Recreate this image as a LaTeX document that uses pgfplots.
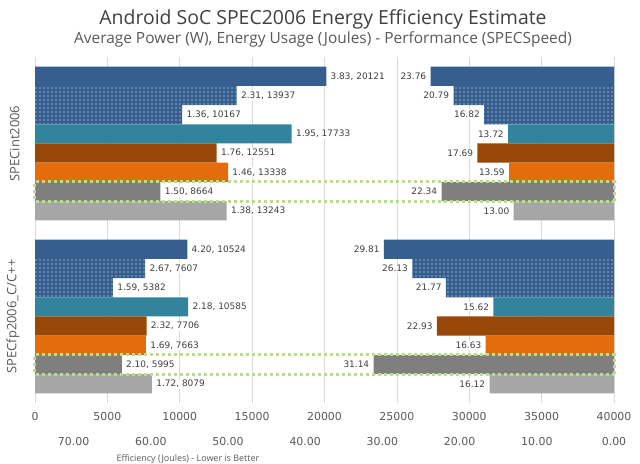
\documentclass[border=0pt]{standalone}
\usepackage{fontspec}
\setmainfont{DejaVu Sans}
\newfontfamily\tfont{Open Sans}
\usepackage{pgfplots}
\pgfplotsset{compat=1.18}
\usepackage{pgfplotstable}
\usetikzlibrary{patterns.meta}
\definecolor{cblue}{RGB}{54,94,143}
\definecolor{cteal}{RGB}{49,132,155}
\definecolor{cbrown}{RGB}{152,72,7}
\definecolor{corange}{RGB}{228,108,10}
\definecolor{cdgrey}{RGB}{127,127,127}
\definecolor{clgrey}{RGB}{166,166,166}
\definecolor{cgreen}{RGB}{188,220,140}
\definecolor{ctext}{RGB}{89,89,89}
\definecolor{clab}{RGB}{64,64,64}
\definecolor{cgrid}{RGB}{217,217,217}

% y: bar position (top group 17..10, bottom group 8..1); e: energy (J); p: SPECspeed; lab: power, energy
\pgfplotstableread[col sep=semicolon]{
y;e;p;lab
17;20121;23.76;3.83, 20121
8;10524;29.81;4.20, 10524
}\sA
\pgfplotstableread[col sep=semicolon]{
y;e;p;lab
16;13937;20.79;2.31, 13937
7;7607;26.13;2.67, 7607
}\sB
\pgfplotstableread[col sep=semicolon]{
y;e;p;lab
15;10167;16.82;1.36, 10167
6;5382;21.77;1.59, 5382
}\sC
\pgfplotstableread[col sep=semicolon]{
y;e;p;lab
14;17733;13.72;1.95, 17733
5;10585;15.62;2.18, 10585
}\sD
\pgfplotstableread[col sep=semicolon]{
y;e;p;lab
13;12551;17.69;1.76, 12551
4;7706;22.93;2.32, 7706
}\sE
\pgfplotstableread[col sep=semicolon]{
y;e;p;lab
12;13338;13.59;1.46, 13338
3;7663;16.63;1.69, 7663
}\sF
\pgfplotstableread[col sep=semicolon]{
y;e;p;lab
11;8664;22.34;1.50, 8664
2;5995;31.14;2.10, 5995
}\sG
\pgfplotstableread[col sep=semicolon]{
y;e;p;lab
10;13243;13.00;1.38, 13243
1;8079;16.12;1.72, 8079
}\sH

\pgfplotsset{
  common/.style={
    at={(35bp,61bp)}, anchor=south west,
    scale only axis, width=579bp, height=346bp,
    ymin=0, ymax=18, xbar,
    every axis plot/.append style={bar width=1, bar shift=0pt, draw=none},
    tick label style={font=\fontsize{11}{13}\selectfont, text=ctext},
    /pgf/number format/assume math mode=true,
    tick style={draw=none},
  },
  dotbar/.style={fill=cblue, postaction={pattern={Dots[distance=4bp, radius=0.6bp]}, pattern color=white}},
}

\begin{document}
\begin{tikzpicture}[x=1bp,y=1bp]
\useasboundingbox (0,0) rectangle (640,464);
\node[font=\tfont\fontsize{19.5}{22}\selectfont, text=clab] at (323,445) {Android SoC SPEC2006 Energy Efficiency Estimate};
\node[font=\tfont\fontsize{15.5}{18}\selectfont, text=ctext] at (323,425) {Average Power (W), Energy Usage (Joules) - Performance (SPECSpeed)};
\node[anchor=base west, font=\tfont\fontsize{9}{11}\selectfont, text=ctext] at (113,2.5) {Efficiency (Joules) - Lower is Better};

\begin{axis}[common,
  xmin=0, xmax=40000,
  xtick={0,5000,...,40000}, scaled x ticks=false,
  xticklabel style={/pgf/number format/1000 sep={}, anchor=center, yshift=-14bp},
  xmajorgrids, grid style={cgrid, line width=0.6bp},
  axis lines*=left, x axis line style={draw=none}, y axis line style={draw=cgrid, line width=0.8bp},
  ytick={13.5,4.5}, yticklabels={SPECint2006, SPECfp2006\_C/C++},
  yticklabel style={rotate=90, anchor=south, inner sep=0pt, font=\tfont\fontsize{13}{15}\selectfont, text=ctext},
  yticklabel shift=11bp,
  point meta=explicit symbolic,
  nodes near coords,
  every node near coord/.append style={font=\fontsize{9}{10}\selectfont, text=clab, fill=white, inner sep=1.2bp, anchor=west, xshift=3bp},
]
\addplot[fill=cblue] table[x=e, y=y, meta=lab] {\sA};
\addplot[dotbar] table[x=e, y=y, meta=lab] {\sB};
\addplot[dotbar] table[x=e, y=y, meta=lab] {\sC};
\addplot[fill=cteal] table[x=e, y=y, meta=lab] {\sD};
\addplot[fill=cbrown] table[x=e, y=y, meta=lab] {\sE};
\addplot[fill=corange] table[x=e, y=y, meta=lab] {\sF};
\addplot[fill=cdgrey] table[x=e, y=y, meta=lab] {\sG};
\addplot[fill=clgrey] table[x=e, y=y, meta=lab] {\sH};
\end{axis}

\begin{axis}[common,
  xmin=0, xmax=75, x dir=reverse,
  hide y axis, axis x line*=bottom, x axis line style={draw=none},
  xtick={0,10,...,70},
  xticklabel={\pgfmathprintnumber[fixed, fixed zerofill, precision=2]{\tick}},
  xticklabel style={anchor=center, yshift=-39bp},
  clip=false,
  point meta=x,
  nodes near coords={\pgfmathprintnumber[fixed, fixed zerofill, precision=2]{\pgfplotspointmeta}},
  every node near coord/.append style={font=\fontsize{9}{10}\selectfont, text=clab, fill=white, inner sep=1.2bp, anchor=east, xshift=-3bp},
]
\addplot[fill=cblue] table[x=p, y=y] {\sA};
\addplot[dotbar] table[x=p, y=y] {\sB};
\addplot[dotbar] table[x=p, y=y] {\sC};
\addplot[fill=cteal] table[x=p, y=y] {\sD};
\addplot[fill=cbrown] table[x=p, y=y] {\sE};
\addplot[fill=corange] table[x=p, y=y] {\sF};
\addplot[fill=cdgrey] table[x=p, y=y] {\sG};
\addplot[fill=clgrey] table[x=p, y=y] {\sH};
\draw[cgreen, line width=3bp, dash pattern=on 3bp off 3bp] (axis cs:0,10.5) rectangle (axis cs:75,11.5);
\draw[cgreen, line width=3bp, dash pattern=on 3bp off 3bp] (axis cs:0,1.5) rectangle (axis cs:75,2.5);
\end{axis}
\end{tikzpicture}
\end{document}
